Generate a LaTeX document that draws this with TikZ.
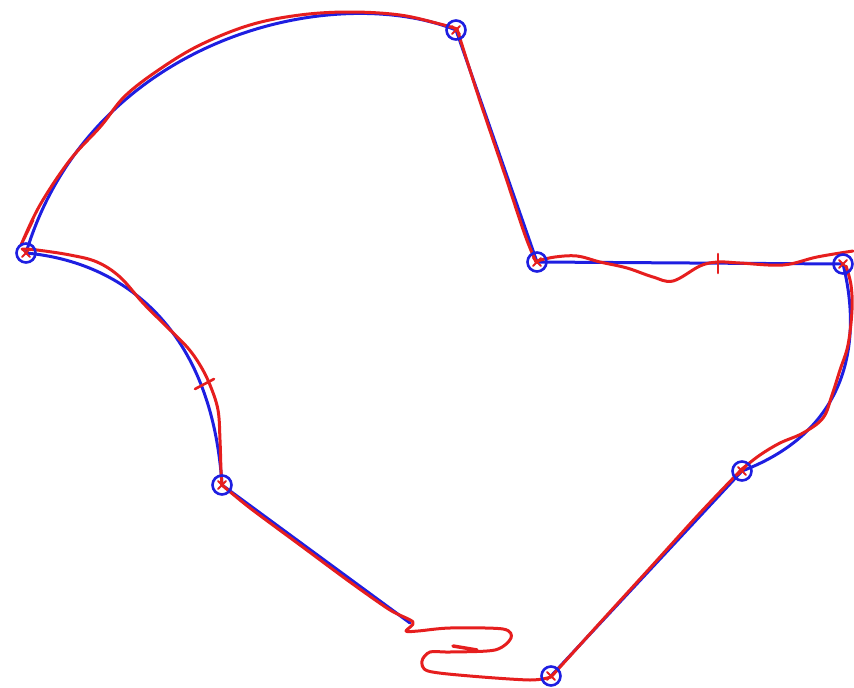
\documentclass[tikz,border=0pt]{standalone}
\usetikzlibrary{calc}
\definecolor{pblue}{RGB}{30,30,225}
\definecolor{pred}{RGB}{230,30,30}
\tikzset{
  vtx/.style={circle,draw=pblue,line width=2.6pt,minimum size=19pt,inner sep=0pt},
  bline/.style={draw=pblue,line width=3pt,line cap=round,line join=round},
  rline/.style={draw=pred,line width=3pt,line cap=round,line join=round},
  rmark/.style={draw=pred,line width=2.6pt,line cap=round},
}
\begin{document}
\begin{tikzpicture}[x=1pt,y=-1pt]
\useasboundingbox (0,0) rectangle (854,688);
% vertices
\coordinate (A) at (456,30);
\coordinate (B) at (537,262);
\coordinate (C) at (843,264);
\coordinate (D) at (742,471);
\coordinate (E) at (551,676);
\coordinate (F) at (222,485);
\coordinate (G) at (26,253);
\coordinate (Fend) at (410,623);
% blue figure
\draw[bline] (G) .. controls (90,40) and (330,-20) .. (A);
\draw[bline] (A) -- (B) -- (C);
\draw[bline] (C) .. controls (862,340) and (850,430) .. (D);
\draw[bline] (D) -- (E);
\draw[bline] (G) .. controls (125,262) and (212,330) .. (F);
\draw[bline] (F) -- (Fend);
% red sketch
\draw[rline] plot[smooth,tension=0.6] coordinates {(33,220) (21,245) (40,205) (70,160) (101,126) (125,96) (160,69) (200,45) (250,25) (300,15) (350,12) (400,15) (440,24) (457,29)};
\draw[rline] plot[smooth,tension=0.6] coordinates {(457,29) (478,95) (505,175) (525,235) (536,262)};
\draw[rline] plot[smooth,tension=0.6] coordinates {(22,249) (37,250) (70,255) (97,262) (120,277) (143,303) (165,325) (187,347) (200,365) (210,385) (218,410) (220,440) (221,470) (222,485)};
\draw[rline] plot[smooth,tension=0.5] coordinates {(222,485) (250,508) (300,545) (350,582) (390,610) (413,622) (406,631) (418,631) (450,628) (503,629) (511,638) (495,650) (450,652) (430,652) (422,661) (428,671) (470,676) (530,680) (551,677)};
\draw[rline] plot[smooth,tension=0.6] coordinates {(551,677) (598,625) (650,568) (700,513) (742,469)};
\draw[rline] plot[smooth,tension=0.6] coordinates {(742,469) (760,455) (780,443) (803,433) (823,418) (832,395) (840,370) (848,345) (852,310) (851,285) (846,266)};
\draw[rline] plot[smooth,tension=0.6] coordinates {(853,251) (817,257) (783,265) (740,263) (718,262) (700,266) (673,281) (653,277) (627,268) (600,262) (577,256) (555,257) (537,261)};
% ticks and marks
\draw[rmark] (195,389) -- (214,379);
\draw[rmark] (718,254) -- (718,273);
\draw[rmark,line width=3.5pt] (453,646) -- (477,650);
\foreach \p in {A,E,D,F,G,B,C}{
  \draw[rmark,line width=2pt] ($(\p)+(-4,-4)$) -- ($(\p)+(4,4)$);
  \draw[rmark,line width=2pt] ($(\p)+(-4,4)$) -- ($(\p)+(4,-4)$);
}
% circles
\node[vtx] (nA) at (A) {};
\node[vtx] (nB) at (B) {};
\node[vtx] (nC) at (C) {};
\node[vtx] (nD) at (D) {};
\node[vtx] (nE) at (E) {};
\node[vtx] (nF) at (F) {};
\node[vtx] (nG) at (G) {};
\end{tikzpicture}
\end{document}
